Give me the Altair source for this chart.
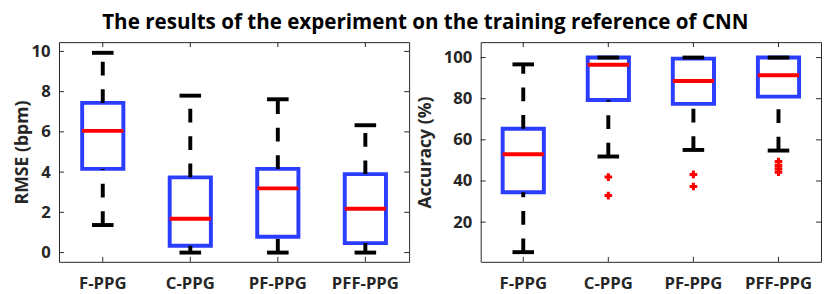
import altair as alt
import pandas as pd

cats = ["F-PPG", "C-PPG", "PF-PPG", "PFF-PPG"]

rmse_lower = [1.37, 0.0, 0.0, 0.0]
rmse_q1 = [4.16, 0.34, 0.79, 0.47]
rmse_median = [6.05, 1.68, 3.19, 2.18]
rmse_q3 = [7.44, 3.74, 4.16, 3.90]
rmse_upper = [9.93, 7.80, 7.62, 6.33]
rmse_outlier_cat = []
rmse_outlier_val = []

acc_lower = [5.4, 51.9, 55.1, 54.8]
acc_q1 = [34.5, 79.4, 77.5, 81.0]
acc_median = [53.0, 96.5, 88.6, 91.4]
acc_q3 = [65.4, 100.0, 99.5, 100.0]
acc_upper = [96.7, 100.0, 100.0, 100.0]
acc_outlier_cat = ["C-PPG", "C-PPG", "PF-PPG", "PF-PPG", "PFF-PPG", "PFF-PPG", "PFF-PPG", "PFF-PPG"]
acc_outlier_val = [41.9, 32.9, 43.2, 37.3, 49.5, 47.6, 45.9, 44.3]

rmse_ticks = [0, 2, 4, 6, 8, 10]
acc_ticks = [20, 40, 60, 80, 100]

TITLE = "The results of the experiment on the training reference of CNN"
FONT = "Open Sans"
BLUE = "#2b3dff"
RED = "#ff0000"
FRAME = "#262626"


def panel(lower, q1, med, q3, upper, out_cat, out_val, ticks, domain, ytitle, width, height, title_pad):
    df = pd.DataFrame({"cat": cats, "lower": lower, "q1": q1, "median": med, "q3": q3, "upper": upper})
    dfo = pd.DataFrame({"cat": out_cat, "val": out_val})
    dft = pd.DataFrame({"v": ticks})
    dfc = pd.DataFrame({"cat": cats})
    xsc = alt.Scale(domain=cats, paddingInner=0, paddingOuter=0)
    ysc = alt.Scale(domain=domain, nice=False, zero=False)
    xax = alt.Axis(labelAngle=0, labelPadding=14, title=None)
    yax = alt.Axis(values=ticks, labelPadding=9, titlePadding=title_pad, title=ytitle)

    def X():
        return alt.X("cat:N", sort=cats, scale=xsc, axis=xax)

    def Y(f):
        return alt.Y(f, scale=ysc, axis=yax)

    base = alt.Chart(df)
    box = base.mark_bar(fillOpacity=0, stroke=BLUE, strokeWidth=4, size=42).encode(
        x=X(), y=Y("q1:Q"), y2="q3:Q")
    up_wh = base.mark_rule(color="black", strokeWidth=4, strokeDash=[14, 14]).encode(
        x=X(), y=Y("q3:Q"), y2="upper:Q")
    lo_wh = base.mark_rule(color="black", strokeWidth=4, strokeDash=[14, 14]).encode(
        x=X(), y=Y("lower:Q"), y2="q1:Q")
    cap_up = base.mark_tick(color="black", thickness=4, size=22, opacity=1).encode(
        x=X(), y=Y("upper:Q"))
    cap_lo = base.mark_tick(color="black", thickness=4, size=22, opacity=1).encode(
        x=X(), y=Y("lower:Q"))
    med_t = base.mark_tick(color=RED, thickness=4, size=42, opacity=1).encode(
        x=X(), y=Y("median:Q"))
    outl = alt.Chart(dfo).mark_point(shape="cross", filled=True, color=RED, size=60, opacity=1).encode(
        x=X(), y=Y("val:Q"))

    lt = alt.Chart(dft).mark_rule(color=FRAME, strokeWidth=1).encode(
        y=Y("v:Q"), x=alt.value(0), x2=alt.value(5))
    rt = alt.Chart(dft).mark_rule(color=FRAME, strokeWidth=1).encode(
        y=Y("v:Q"), x=alt.value(width - 5), x2=alt.value(width))
    bt = alt.Chart(dfc).mark_rule(color=FRAME, strokeWidth=1).encode(
        x=X(), y=alt.value(height - 5), y2=alt.value(height))
    tt = alt.Chart(dfc).mark_rule(color=FRAME, strokeWidth=1).encode(
        x=X(), y=alt.value(0), y2=alt.value(5))

    layers = [box, up_wh, lo_wh, cap_up, cap_lo, med_t]
    if len(out_val) > 0:
        layers.append(outl)
    layers += [lt, rt, bt, tt]
    return alt.layer(*layers).properties(width=width, height=height)


left = panel(rmse_lower, rmse_q1, rmse_median, rmse_q3, rmse_upper, rmse_outlier_cat, rmse_outlier_val,
             rmse_ticks, [-0.46, 10.46], "RMSE (bpm)", 357, 224, 0)
right = panel(acc_lower, acc_q1, acc_median, acc_q3, acc_upper, acc_outlier_cat, acc_outlier_val,
              acc_ticks, [0.7, 107.5], "Accuracy (%)", 347, 224, 9)

chart = alt.hconcat(left, right, spacing=6).properties(
    title=alt.TitleParams(text=TITLE, font=FONT, fontSize=21, fontWeight="bold", color="black",
                          anchor="middle", offset=8, dx=8),
    padding={"left": 5, "top": 2, "right": 0, "bottom": 0},
).configure_view(stroke=FRAME, strokeWidth=1).configure_axis(
    labelFont=FONT, labelFontSize=17, labelFontWeight="bold", labelColor=FRAME,
    titleFont=FONT, titleFontSize=18, titleFontWeight="bold", titleColor=FRAME,
    domain=False, ticks=False, grid=False,
).configure_concat(spacing=6)

chart.save("out.html", embed_options={"renderer": "svg", "actions": False})
